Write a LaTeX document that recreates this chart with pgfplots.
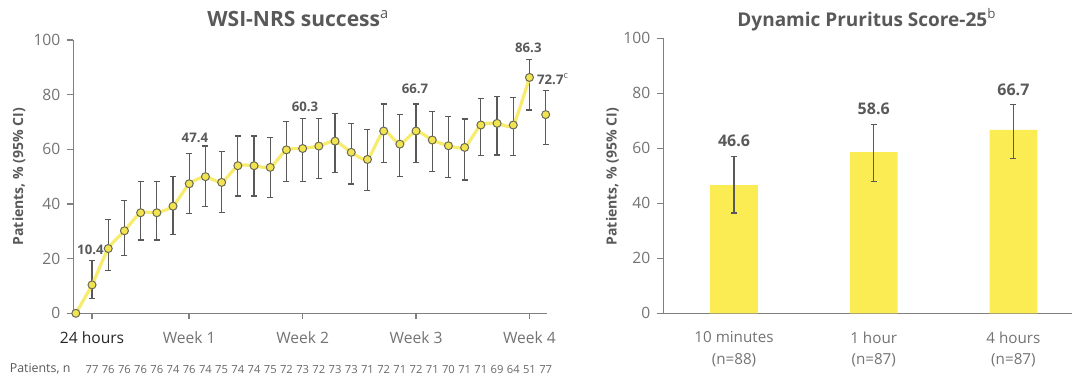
\documentclass[border=0pt]{standalone}
\usepackage{pgfplots}
\pgfplotsset{compat=1.18}
\usepackage{pgfplotstable}
\usepackage{fontspec}
\setmainfont{Open Sans}
\definecolor{axgray}{RGB}{128,128,128}
\definecolor{tickgray}{RGB}{115,115,115}
\definecolor{dkgray}{RGB}{89,89,89}
\definecolor{lineyel}{RGB}{247,236,110}
\definecolor{mkfill}{RGB}{242,228,80}
\definecolor{mkedge}{RGB}{105,105,85}
\definecolor{baryel}{RGB}{250,236,82}
\definecolor{ngray}{RGB}{105,105,105}

\pgfplotstableread{
d y ep em
0 0 0 0
1 10.4 8.9 4.9
2 23.7 10.7 7.9
3 30.2 11.0 9.1
4 36.8 11.4 10.0
5 36.8 11.4 10.0
6 39.2 10.9 10.3
7 47.4 11.1 10.8
8 50.0 11.2 11.0
9 47.9 11.2 10.9
10 54.0 10.9 11.1
11 54.0 10.9 11.1
12 53.4 11.0 11.0
13 59.8 10.3 11.6
14 60.3 11.0 12.1
15 61.2 10.1 11.8
16 63.0 10.2 11.6
17 58.9 10.6 11.6
18 56.3 11.0 11.4
19 66.7 9.9 11.6
20 61.9 10.7 11.7
21 66.7 9.9 11.6
22 63.4 10.4 11.6
23 61.3 10.6 11.5
24 60.7 10.4 11.9
25 68.9 9.6 11.2
26 69.5 9.8 11.6
27 68.9 10.0 11.2
28 86.3 6.7 11.9
29 72.7 8.7 10.8
}\wsi

\pgfplotstableread{
x y ep em
0 46.6 10.5 10.1
1 58.6 10.1 10.6
2 66.7 9.3 10.5
}\dps

\pgfplotsset{
  mystyle/.style={
    scale only axis, clip=false,
    ymin=0, ymax=100, ytick={0,20,...,100},
    axis lines=left,
    axis line style={-, draw=axgray, line width=0.8pt},
    tick align=outside, major tick length=3pt,
    tick style={draw=axgray, line width=0.8pt},
    tick label style={font=\fontsize{7.8}{9}\selectfont, text=tickgray},
    xticklabel style={yshift=-2.6pt},
    /pgf/number format/assume math mode=true,
  },
  myerr/.style={
    error bars/.cd, y dir=both, y explicit,
    error bar style={draw=dkgray, line width=0.6pt, solid},
    error mark options={rotate=90, mark size=1.5pt, draw=dkgray, line width=0.6pt},
  },
}

\begin{document}
\begin{tikzpicture}
\useasboundingbox (0,0) rectangle (536.5pt,188pt);

% ---------- left chart ----------
\begin{axis}[mystyle,
  at={(36.7pt,31.35pt)}, anchor=south west,
  width=236.95pt, height=136.65pt,
  xmin=-0.15, xmax=29.1,
  xtick={1,7,14,21,28},
  xticklabels={\textcolor{black!85}{24 hours},Week 1,Week 2,Week 3,Week 4},
]
\addplot[draw=none, mark=none, forget plot, myerr]
  table[x=d, y=y, y error plus=ep, y error minus=em]{\wsi};
\addplot[lineyel, line width=1.6pt, mark=none, smooth, tension=0.35,
  restrict x to domain=0:28.5]
  table[x=d, y=y]{\wsi};
\addplot[only marks, mark=*, mark size=2pt,
  mark options={fill=mkfill, draw=mkedge, line width=0.5pt}]
  table[x=d, y=y]{\wsi};

\begin{scope}[every node/.style={font=\bfseries\fontsize{6.6}{8}\selectfont, text=dkgray}]
\node at (axis cs:0.9,23.2) {10.4};
\node at (axis cs:7.35,64.2) {47.4};
\node at (axis cs:14.15,75.4) {60.3};
\node at (axis cs:20.94,82.3) {66.7};
\node at (axis cs:27.93,97.3) {86.3};
\node[anchor=west, inner sep=0pt] at (axis cs:28.45,85.7) {72.7\textsuperscript{\normalfont c}};
\end{scope}

\foreach \d/\n in {1/77,2/76,3/76,4/76,5/76,6/74,7/76,8/74,9/75,10/74,11/74,12/75,13/72,14/73,15/72,16/73,17/73,18/71,19/72,20/71,21/72,22/71,23/70,24/71,25/71,26/69,27/64,28/51,29/77}{
  \edef\tmp{\noexpand\node[font=\noexpand\fontsize{5.6}{7}\noexpand\selectfont, text=ngray] at (axis cs:\d,-20.6) {\n};}\tmp
}
\end{axis}

% ---------- right chart ----------
\begin{axis}[mystyle,
  at={(331.65pt,31.35pt)}, anchor=south west,
  width=204.4pt, height=137.5pt,
  xmin=-0.506, xmax=2.42,
  xtick={0,1,2}, xtick style={draw=none},
  xticklabels={10 minutes\\(n=88), 1 hour\\(n=87), 4 hours\\(n=87)},
  xticklabel style={align=center, font=\fontsize{7.6}{10.8}\selectfont},
  ybar, bar width=23.85pt,
]
\addplot[fill=baryel, draw=none, bar shift=0pt, myerr]
  table[x=x, y=y, y error plus=ep, y error minus=em]{\dps};
\begin{scope}[every node/.style={font=\bfseries\fontsize{8}{9}\selectfont, text=dkgray}]
\node at (axis cs:0,62.8) {46.6};
\node at (axis cs:1,74.2) {58.6};
\node at (axis cs:2,81.2) {66.7};
\end{scope}
\end{axis}

% ---------- titles and labels ----------
\node[anchor=base west, inner sep=0pt, text=dkgray, font=\bfseries\fontsize{10.5}{12}\selectfont]
  at (103.5pt,175pt) {WSI-NRS success\textsuperscript{\normalfont a}};
\node[anchor=base west, inner sep=0pt, text=dkgray, font=\bfseries\fontsize{9.5}{11}\selectfont]
  at (368.5pt,175pt) {Dynamic Pruritus Score-25\textsuperscript{\normalfont b}};
\node[rotate=90, text=dkgray, font=\bfseries\fontsize{7}{8}\selectfont]
  at (9.5pt,99.7pt) {Patients, \% (95\% CI)};
\node[rotate=90, text=dkgray, font=\bfseries\fontsize{7}{8}\selectfont]
  at (306.25pt,99.7pt) {Patients, \% (95\% CI)};
\node[anchor=west, inner sep=0pt, text=dkgray, font=\fontsize{6.2}{7}\selectfont]
  at (4.7pt,3.6pt) {Patients, n};
\end{tikzpicture}
\end{document}
